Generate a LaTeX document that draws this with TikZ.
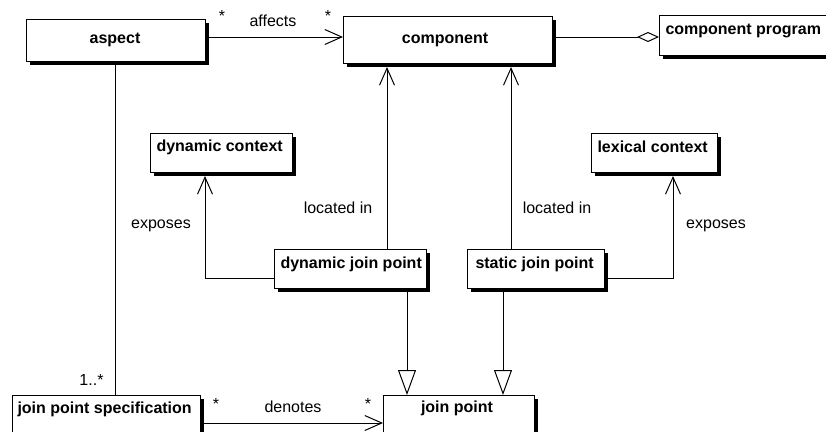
\documentclass[tikz,border=0pt]{standalone}
\usepackage{fontspec}
\setmainfont{Liberation Sans}
\usetikzlibrary{arrows.meta,shadows}
\begin{document}
\begin{tikzpicture}[x=1pt,y=-1pt,line width=1pt,
  box/.style={draw=black,fill=white,line width=1pt,inner sep=0pt,anchor=north west,
    drop shadow={shadow xshift=3pt,shadow yshift=-3pt,fill=black,opacity=1}},
  nm/.style={font=\fontsize{16}{18}\selectfont\bfseries,inner sep=0pt},
  lbl/.style={font=\fontsize{16}{18}\selectfont,inner sep=0pt},
  assoc/.style={-{Straight Barb[length=17pt,width=15pt,line width=1pt]}},
  gen/.style={-{Triangle[open,length=25pt,width=18pt,line width=1pt]}},
  aggr/.style={-{Diamond[open,length=22pt,width=10pt,line width=1pt]}}]
\clip (0,0) rectangle (826,431);
\fill[white] (0,0) rectangle (826,431);
% boxes
\node[box,minimum width=179pt,minimum height=42pt] (aspect) at (26,19) {};
\node[box,minimum width=209pt,minimum height=47pt] (component) at (343,16) {};
\node[box,minimum width=200pt,minimum height=40pt] (cprog) at (659,15) {};
\node[box,minimum width=142pt,minimum height=39pt] (dctx) at (150,133) {};
\node[box,minimum width=126pt,minimum height=39pt] (lctx) at (591,133) {};
\node[box,minimum width=152pt,minimum height=39pt] (djp) at (274,249) {};
\node[box,minimum width=137pt,minimum height=39pt] (sjp) at (467,249) {};
\node[box,minimum width=151pt,minimum height=60pt] (jp) at (383,395) {};
\node[box,minimum width=188pt,minimum height=60pt] (jps) at (12,395) {};
% names
\node[nm] (aspectT) at (115,40) {aspect};
\node[nm] (componentT) at (445,40) {component};
\node[nm,anchor=west] (cprogT) at (665,31) {component program};
\node[nm,anchor=west] (dctxT) at (156,147) {dynamic context};
\node[nm,anchor=west] (lctxT) at (597,147) {lexical context};
\node[nm,anchor=west] (djpT) at (280,264) {dynamic join point};
\node[nm,anchor=west] (sjpT) at (475,264) {static join point};
\node[nm] (jpT) at (457,408) {join point};
\node[nm,anchor=west] (jpsT) at (17,409) {join point specification};
% connectors
\draw[assoc] (aspect.east |- 0,37) -- (component.west |- 0,37);
\draw[aggr] (component.east |- 0,37) -- (cprog.west |- 0,37);
\draw (aspect.south -| 115,0) -- (jps.north -| 115,0);
\draw[assoc] (jps.east |- 0,423) -- (jp.west |- 0,423);
\draw[assoc] (djp.north -| 387,0) -- ([yshift=-3pt]component.south -| 387,0);
\draw[assoc] (sjp.north -| 511,0) -- ([yshift=-3pt]component.south -| 511,0);
\draw[assoc] (djp.west |- 0,278) -| ([yshift=-3pt]dctx.south -| 205,0);
\draw[assoc] (sjp.east |- 0,278) -| ([yshift=-3pt]lctx.south -| 673,0);
\draw[gen] ([yshift=-3pt]djp.south -| 407,0) -- (jp.north -| 407,0);
\draw[gen] ([yshift=-3pt]sjp.south -| 503,0) -- (jp.north -| 503,0);
% labels
\node[lbl] (s1) at (222,16) {*};
\node[lbl] (affects) at (273,21) {affects};
\node[lbl] (s2) at (328,16) {*};
\node[lbl] (loc1) at (338,208) {located in};
\node[lbl] (loc2) at (557,208) {located in};
\node[lbl] (exp1) at (161,226) {exposes};
\node[lbl] (exp2) at (716,226) {exposes};
\node[lbl,anchor=east] (mult) at (104,380) {1..*};
\node[lbl] (s3) at (216,404) {*};
\node[lbl] (denotes) at (293,407) {denotes};
\node[lbl] (s4) at (368,404) {*};
\end{tikzpicture}
\end{document}
